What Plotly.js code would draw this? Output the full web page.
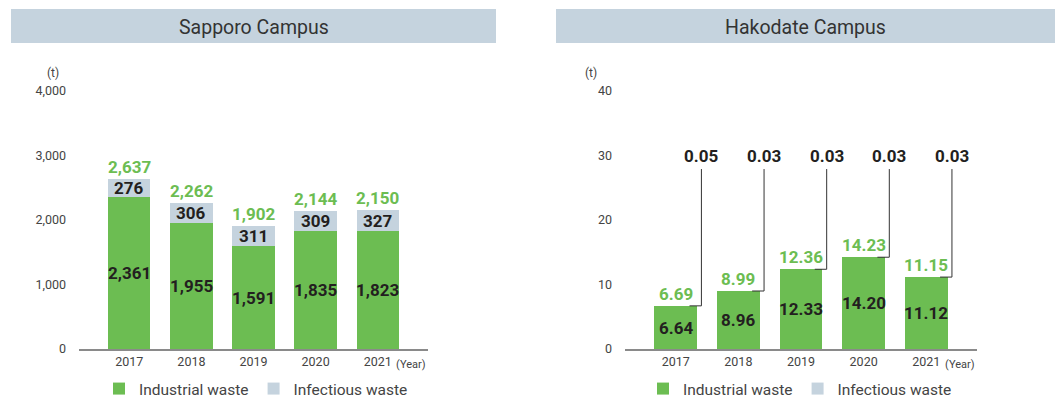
<!DOCTYPE html>
<html>
<head>
<meta charset="utf-8">
<script src="https://cdn.plot.ly/plotly-3.0.1.min.js"></script>
<style>
html,body{margin:0;padding:0;background:#fff;}
#chart{width:1055px;height:399px;}
</style>
</head>
<body>
<div id="chart"></div>
<script>
// ---- data ----
const years = ['2017', '2018', '2019', '2020', '2021'];
const seriesNames = ['Industrial waste', 'Infectious waste'];
const panelTitles = ['Sapporo Campus', 'Hakodate Campus'];
const sapporoIndustrial = [2361, 1955, 1591, 1835, 1823];
const sapporoInfectious = [276, 306, 311, 309, 327];
const sapporoTotal = [2637, 2262, 1902, 2144, 2150];
const hakodateIndustrial = [6.64, 8.96, 12.33, 14.20, 11.12];
const hakodateInfectious = [0.05, 0.03, 0.03, 0.03, 0.03];
const hakodateTotal = [6.69, 8.99, 12.36, 14.23, 11.15];
const sapporoTicks = [0, 1000, 2000, 3000, 4000];
const hakodateTicks = [0, 10, 20, 30, 40];

// ---- style ----
const GREEN = '#6cbd52';
const BLUE = '#c5d3de';
const DARK = '#231f20';
const GREY = '#444444';
const FONT = 'Roboto, "Noto Sans", sans-serif';
const W = 1055, H = 399;
const px = v => v / W;
const py = v => (H - v) / H;

const traces = [
  {type: 'bar', x: years, y: sapporoIndustrial, name: seriesNames[0], marker: {color: GREEN}, xaxis: 'x', yaxis: 'y', legend: 'legend', hoverinfo: 'x+y+name'},
  {type: 'bar', x: years, y: sapporoInfectious, name: seriesNames[1], marker: {color: BLUE}, xaxis: 'x', yaxis: 'y', legend: 'legend', hoverinfo: 'x+y+name'},
  {type: 'bar', x: years, y: hakodateIndustrial, name: seriesNames[0], marker: {color: GREEN}, xaxis: 'x2', yaxis: 'y2', legend: 'legend2', hoverinfo: 'x+y+name'},
  {type: 'bar', x: years, y: hakodateInfectious, name: seriesNames[1], marker: {color: BLUE}, xaxis: 'x2', yaxis: 'y2', legend: 'legend2', hoverinfo: 'x+y+name'}
];

const annotations = [];
const shapes = [];

// title boxes
const boxes = [[11, 496], [556, 1055]];
boxes.forEach((b, i) => {
  shapes.push({type: 'rect', xref: 'paper', yref: 'paper', x0: px(b[0]), x1: px(b[1]), y0: py(43), y1: py(9), fillcolor: BLUE, line: {width: 0}, layer: 'below'});
  annotations.push({xref: 'paper', yref: 'paper', x: px((b[0] + b[1]) / 2), y: py(27), text: panelTitles[i], showarrow: false, xanchor: 'center', yanchor: 'middle', font: {family: FONT, size: 19.5, color: '#333'}});
});

// unit labels
[53, 591].forEach(u => {
  annotations.push({xref: 'paper', yref: 'paper', x: px(u), y: py(73), text: '(t)', showarrow: false, xanchor: 'center', yanchor: 'middle', font: {family: FONT, size: 12, color: GREY}});
});
[428, 977].forEach(u => {
  annotations.push({xref: 'paper', yref: 'paper', x: px(u), y: py(364), text: '(Year)', showarrow: false, xanchor: 'right', yanchor: 'middle', font: {family: FONT, size: 11, color: GREY}});
});

const fmt = v => v.toLocaleString('en-US');
const LBL = 17;
// Sapporo labels
years.forEach((yr, i) => {
  annotations.push({xref: 'x', yref: 'y', x: i, y: sapporoIndustrial[i] / 2, text: '<b>' + fmt(sapporoIndustrial[i]) + '</b>', showarrow: false, xanchor: 'center', yanchor: 'middle', font: {family: FONT, size: LBL, color: DARK}});
  annotations.push({xref: 'x', yref: 'y', x: i, y: sapporoIndustrial[i] + sapporoInfectious[i] / 2, text: '<b>' + fmt(sapporoInfectious[i]) + '</b>', showarrow: false, xanchor: 'center', yanchor: 'middle', font: {family: FONT, size: LBL, color: DARK}});
  annotations.push({xref: 'x', yref: 'y', x: i, y: sapporoTotal[i], yshift: 12, text: '<b>' + fmt(sapporoTotal[i]) + '</b>', showarrow: false, xanchor: 'center', yanchor: 'middle', font: {family: FONT, size: LBL, color: GREEN}});
});
// Hakodate labels
years.forEach((yr, i) => {
  annotations.push({xref: 'x2', yref: 'y2', x: i, y: hakodateIndustrial[i] / 2, text: '<b>' + hakodateIndustrial[i].toFixed(2) + '</b>', showarrow: false, xanchor: 'center', yanchor: 'middle', font: {family: FONT, size: LBL, color: DARK}});
  annotations.push({xref: 'x2', yref: 'y2', x: i, y: hakodateTotal[i], yshift: 12, text: '<b>' + hakodateTotal[i].toFixed(2) + '</b>', showarrow: false, xanchor: 'center', yanchor: 'middle', font: {family: FONT, size: LBL, color: GREEN}});
  // callout for tiny infectious value
  const lx = i + 0.41;
  shapes.push({type: 'line', xref: 'x2', yref: 'y2', x0: i + 0.22, x1: lx, y0: hakodateTotal[i], y1: hakodateTotal[i], line: {color: '#333', width: 1}});
  shapes.push({type: 'line', xref: 'x2', yref: 'y2', x0: lx, x1: lx, y0: hakodateTotal[i], y1: 27.9, line: {color: '#333', width: 1}});
  annotations.push({xref: 'x2', yref: 'y2', x: lx, y: 29.9, text: '<b>' + hakodateInfectious[i].toFixed(2) + '</b>', showarrow: false, xanchor: 'center', yanchor: 'middle', font: {family: FONT, size: LBL, color: DARK}});
});

const xaxisBase = {type: 'category', showgrid: false, zeroline: false, showline: true, linecolor: '#8a8a8a', linewidth: 2, ticks: '', tickfont: {family: FONT, size: 12.5, color: GREY}, fixedrange: true, range: [-0.81, 4.81], automargin: false};
const yaxisBase = {showgrid: false, zeroline: false, showline: false, ticks: '', tickfont: {family: FONT, size: 12.5, color: GREY}, ticklabelstandoff: 12, fixedrange: true, automargin: false};

const layout = {
  width: W, height: H,
  margin: {l: 0, r: 0, t: 0, b: 0, autoexpand: false},
  paper_bgcolor: '#fff', plot_bgcolor: '#fff',
  barmode: 'stack', bargap: 0.32,
  font: {family: FONT},
  xaxis: Object.assign({}, xaxisBase, {domain: [px(79), px(428)], anchor: 'y'}),
  yaxis: Object.assign({}, yaxisBase, {domain: [py(349), py(91)], range: [0, 4000], tickvals: sapporoTicks, tickformat: ',d', anchor: 'x'}),
  xaxis2: Object.assign({}, xaxisBase, {domain: [px(625), px(977)], anchor: 'y2'}),
  yaxis2: Object.assign({}, yaxisBase, {domain: [py(349), py(91)], range: [0, 40], tickvals: hakodateTicks, anchor: 'x2'}),
  legend: {orientation: 'h', x: px(256), xanchor: 'center', y: py(389), yanchor: 'middle', font: {family: FONT, size: 15.5, color: GREY}, bgcolor: 'rgba(0,0,0,0)', traceorder: 'normal'},
  legend2: {orientation: 'h', x: px(800), xanchor: 'center', y: py(389), yanchor: 'middle', font: {family: FONT, size: 15.5, color: GREY}, bgcolor: 'rgba(0,0,0,0)', traceorder: 'normal'},
  shapes: shapes,
  annotations: annotations,
  showlegend: true
};

Plotly.newPlot('chart', traces, layout, {displayModeBar: false, staticPlot: true});
</script>
</body>
</html>
